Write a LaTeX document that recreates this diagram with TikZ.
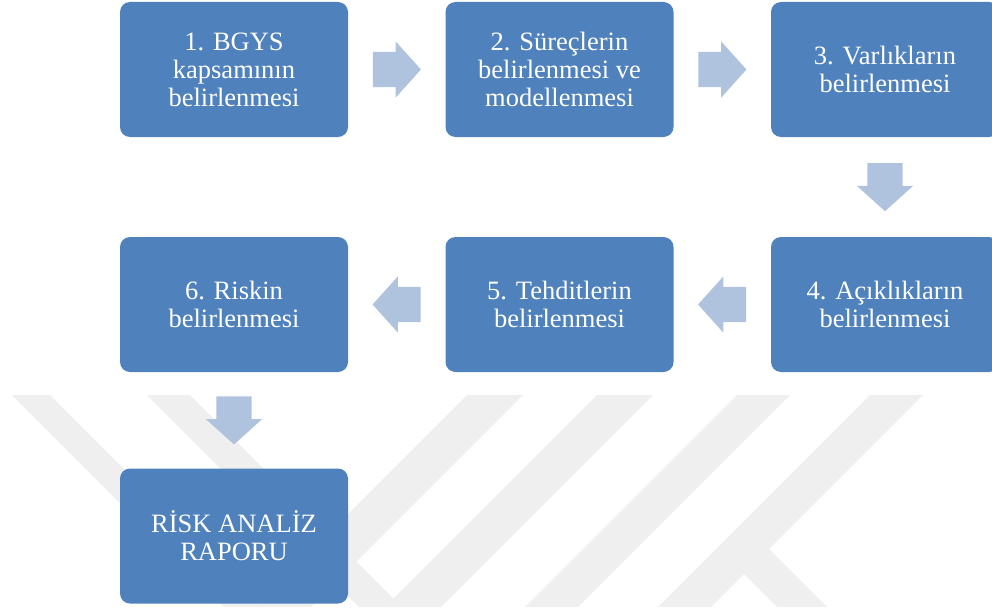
\documentclass[tikz,border=0pt]{standalone}
\usepackage{fontspec}
\setmainfont{Liberation Serif}
\usetikzlibrary{shapes.arrows,calc}
\definecolor{boxblue}{HTML}{4F81BD}
\definecolor{arrowblue}{HTML}{B0C3DE}
\definecolor{markgray}{HTML}{EFEFEF}
\tikzset{
  stepbox/.style={rectangle, rounded corners=10pt, fill=boxblue, draw=none,
    minimum width=228pt, minimum height=135pt, inner sep=0pt,
    align=center, text=white, font=\fontsize{26.5}{28}\selectfont},
  blockarrow/.style={single arrow, fill=arrowblue, draw=none,
    inner xsep=0pt, inner ysep=17.5pt, minimum height=48pt,
    single arrow head extend=10.5pt, single arrow tip angle=96,
    anchor=tail},
  toright/.style={blockarrow},
  toleft/.style={blockarrow, rotate=180},
  todown/.style={blockarrow, rotate=-90}
}
\begin{document}
\begin{tikzpicture}[x=1pt, y=-1pt]
  \useasboundingbox (0,0) rectangle (992,607);
  \clip (0,0) rectangle (992,607);

  % faint background emblem stripes
  \fill[markgray] (12,395) -- (50,395) -- (262,607) -- (224,607) -- cycle;
  \fill[markgray] (147,395) -- (190,395) -- (402,607) -- (359,607) -- cycle;
  \fill[markgray] (467,395) -- (523,395) -- (311,607) -- (255,607) -- cycle;
  \fill[markgray] (597,395) -- (653,395) -- (441,607) -- (385,607) -- cycle;
  \fill[markgray] (737,395) -- (790,395) -- (578,607) -- (525,607) -- cycle;
  \fill[markgray] (870,395) -- (923,395) -- (711,607) -- (658,607) -- cycle;
  \fill[markgray] (755,535) -- (827,607) -- (777,607) -- (730,560) -- cycle;

  % process steps
  \node[stepbox] (b1) at (234,69.5)   {1. BGYS\\kapsamının\\belirlenmesi};
  \node[stepbox] (b2) at (559.5,69.5) {2. Süreçlerin\\belirlenmesi ve\\modellenmesi};
  \node[stepbox] (b3) at (885,69.5)   {3. Varlıkların\\belirlenmesi};
  \node[stepbox] (b4) at (885,304.5)  {4. Açıklıkların\\belirlenmesi};
  \node[stepbox] (b5) at (559.5,304.5){5. Tehditlerin\\belirlenmesi};
  \node[stepbox] (b6) at (234,304.5)  {6. Riskin\\belirlenmesi};
  \node[stepbox] (b7) at (234,536)    {RİSK ANALİZ\\RAPORU};

  % block arrows between the steps (tail placed half a length before the gap's middle)
  \node[toright] (a12) at ($($(b1.east)!0.5!(b2.west)$)+(-24,0)$) {};
  \node[toright] (a23) at ($($(b2.east)!0.5!(b3.west)$)+(-24,0)$) {};
  \node[todown]  (a34) at ($($(b3.south)!0.5!(b4.north)$)+(0,-24)$) {};
  \node[toleft]  (a45) at ($($(b4.west)!0.5!(b5.east)$)+(24,0)$) {};
  \node[toleft]  (a56) at ($($(b5.west)!0.5!(b6.east)$)+(24,0)$) {};
  \node[todown]  (a67) at ($($(b6.south)!0.5!(b7.north)$)+(0,-24)$) {};
\end{tikzpicture}
\end{document}
